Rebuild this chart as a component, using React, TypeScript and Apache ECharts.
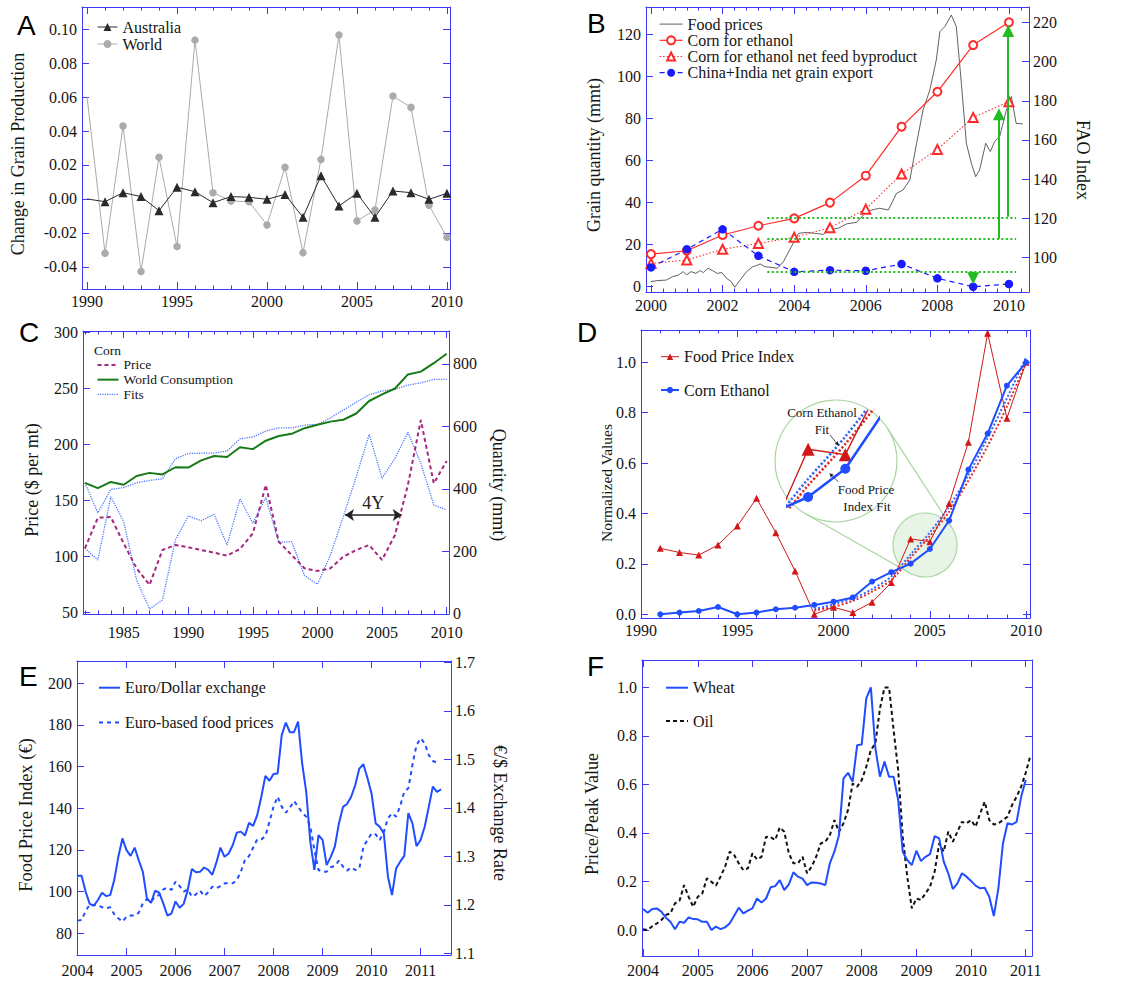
import React, { useEffect, useRef } from 'react';
import * as echarts from 'echarts';

const W = 1133;
const H = 981;
const BLUE = '#3a3aff';
const INK = '#151515';
const SERIF = '"Liberation Serif", "Times New Roman", Times, serif';
const SANS = '"Liberation Sans", Arial, Helvetica, sans-serif';

// ---------------- Panel A ----------------
const aYears = [1990, 1991, 1992, 1993, 1994, 1995, 1996, 1997, 1998, 1999, 2000, 2001, 2002, 2003, 2004, 2005, 2006, 2007, 2008, 2009, 2010];
const aAustralia = [0.0, -0.0016, 0.0037, 0.0014, -0.0069, 0.0069, 0.0043, -0.0022, 0.0014, 0.001, -0.0002, 0.0027, -0.0108, 0.0137, -0.0041, 0.0033, -0.0108, 0.0047, 0.0037, -0.0002, 0.0033];
const aWorld = [0.0602, -0.032, 0.043, -0.0427, 0.0245, -0.028, 0.0935, 0.0037, -0.0012, -0.0016, -0.0153, 0.0186, -0.0316, 0.0233, 0.0965, -0.0129, -0.0065, 0.0606, 0.0539, -0.0037, -0.0225];
const aXTicks = [1990, 1995, 2000, 2005, 2010];
const aYTicks = [-0.04, -0.02, 0, 0.02, 0.04, 0.06, 0.08, 0.1];

// ---------------- Panel B ----------------
const bYears = [2000, 2001, 2002, 2003, 2004, 2005, 2006, 2007, 2008, 2009, 2010];
const bCornEthanol = [15.5, 17.1, 24.6, 29, 32.5, 40, 52.8, 76.1, 92.7, 114.9, 125.7];
const bNetFeed = [11.1, 12.7, 17.8, 20.6, 23.5, 28.1, 36.9, 53.6, 65.3, 80.5, 88];
const bChinaIndia = [9.2, 17.8, 27.3, 14.7, 7.1, 7.9, 7.6, 10.8, 4, 0, 1.3];
const bFoodYears = [2000.0, 2000.17, 2000.43, 2000.6, 2000.77, 2000.9, 2000.99, 2001.12, 2001.25, 2001.38, 2001.46, 2001.59, 2001.72, 2001.85, 2001.98, 2002.11, 2002.24, 2002.34, 2002.49, 2002.67, 2002.84, 2002.92, 2003.05, 2003.18, 2003.35, 2003.53, 2003.7, 2003.87, 2004.0, 2004.12, 2004.35, 2004.58, 2004.81, 2005.0, 2005.23, 2005.46, 2005.74, 2005.98, 2006.16, 2006.39, 2006.63, 2006.86, 2007.04, 2007.23, 2007.42, 2007.6, 2007.79, 2007.97, 2008.07, 2008.21, 2008.39, 2008.53, 2008.67, 2008.81, 2008.95, 2009.07, 2009.18, 2009.35, 2009.48, 2009.6, 2009.74, 2009.93, 2010.07, 2010.2, 2010.39];
const bFoodIndex = [87.8, 88.3, 88.6, 90.3, 91.2, 92.9, 91.2, 92.9, 92.0, 93.4, 92.4, 94.6, 93.4, 92.0, 92.4, 89.5, 87.8, 84.9, 88.6, 92.9, 95.4, 95.8, 96.8, 95.4, 95.1, 94.6, 98.0, 103.9, 108.2, 112.4, 112.9, 112.4, 111.9, 114.4, 115.0, 117.2, 118.0, 122.6, 124.3, 125.2, 124.3, 132.8, 134.5, 139.6, 158.3, 175.3, 185.5, 200.8, 215.2, 217.8, 223.7, 217.8, 188.9, 158.3, 148.1, 141.3, 144.7, 158.3, 154.1, 159.2, 161.7, 175.3, 182.1, 168.5, 168.2];
const bXTicks = [2000, 2002, 2004, 2006, 2008, 2010];
const bYTicks = [0, 20, 40, 60, 80, 100, 120];
const bY2Ticks = [100, 120, 140, 160, 180, 200, 220];

// ---------------- Panel C ----------------
const cYears = [1982, 1983, 1984, 1985, 1986, 1987, 1988, 1989, 1990, 1991, 1992, 1993, 1994, 1995, 1996, 1997, 1998, 1999, 2000, 2001, 2002, 2003, 2004, 2005, 2006, 2007, 2008, 2009, 2010];
const cPrice = [107.4, 134.7, 135.3, 111.8, 89.5, 74.7, 105.9, 110.3, 108.3, 105.9, 103.5, 100.8, 106.8, 120.7, 163.9, 113.3, 101.4, 89.5, 87.2, 89.5, 99.9, 105.9, 110.3, 97, 119.3, 163.9, 221.8, 165.3, 185.3];
const cConsumption = [419, 402, 422, 413, 441, 451, 446, 469, 468, 491, 505, 502, 533, 527, 554, 569, 576, 594, 605, 615, 621, 641, 681, 702, 721, 766, 775, 802, 832];
const cFitQuantity = [419, 323, 398, 404, 419, 427, 432, 496, 513, 514, 514, 521, 560, 566, 585, 595, 595, 604, 606, 627, 652, 677, 701, 713, 718, 732, 739, 750, 750];
const cFitPrice = [107.4, 97, 153.4, 131.2, 79.1, 53.3, 61.3, 114.8, 136.2, 132, 137.7, 110.3, 151.4, 129.7, 152.6, 112.7, 113.3, 83, 75.3, 101.4, 135.6, 171.3, 209, 169.8, 187.6, 210.8, 183.2, 146, 141.6];
const cXTicks = [1985, 1990, 1995, 2000, 2005, 2010];
const cYTicks = [50, 100, 150, 200, 250, 300];
const cY2Ticks = [0, 200, 400, 600, 800];

// ---------------- Panel D ----------------
const dYears = [1991, 1992, 1993, 1994, 1995, 1996, 1997, 1998, 1999, 2000, 2001, 2002, 2003, 2004, 2005, 2006, 2007, 2008, 2009, 2010];
const dFoodPriceIndex = [0.262, 0.245, 0.235, 0.275, 0.35, 0.46, 0.324, 0.172, 0.0, 0.028, 0.007, 0.048, 0.126, 0.299, 0.288, 0.44, 0.683, 1.115, 0.778, 1.0];
const dCornEthanol = [0.0, 0.007, 0.013, 0.029, 0.0, 0.007, 0.02, 0.026, 0.037, 0.05, 0.067, 0.13, 0.167, 0.201, 0.259, 0.372, 0.574, 0.717, 0.907, 1.0];
const dFitYears = [1999, 2000, 2001, 2002, 2003, 2004, 2005, 2006, 2007, 2008, 2009, 2010];
const dCornEthanolFit = [0.02, 0.04, 0.063, 0.1, 0.15, 0.238, 0.325, 0.427, 0.553, 0.7, 0.857, 1.022];
const dFoodPriceFit = [0.015, 0.03, 0.053, 0.09, 0.136, 0.225, 0.31, 0.407, 0.53, 0.668, 0.824, 1.0];
const dXTicks = [1990, 1995, 2000, 2005, 2010];
const dYTicks = [0, 0.2, 0.4, 0.6, 0.8, 1.0];

// ---------------- Panel E (monthly from Jan 2004) ----------------
const eStart = 2004;
const eExchange = [1.26, 1.26, 1.227, 1.202, 1.198, 1.21, 1.225, 1.218, 1.22, 1.251, 1.299, 1.337, 1.313, 1.301, 1.318, 1.292, 1.268, 1.213, 1.204, 1.229, 1.225, 1.203, 1.178, 1.182, 1.207, 1.194, 1.202, 1.231, 1.274, 1.267, 1.268, 1.277, 1.272, 1.262, 1.287, 1.318, 1.299, 1.306, 1.323, 1.349, 1.351, 1.343, 1.369, 1.363, 1.385, 1.423, 1.466, 1.456, 1.47, 1.471, 1.55, 1.576, 1.556, 1.556, 1.578, 1.492, 1.433, 1.33, 1.272, 1.344, 1.334, 1.282, 1.299, 1.32, 1.368, 1.402, 1.408, 1.423, 1.447, 1.481, 1.49, 1.461, 1.429, 1.368, 1.361, 1.347, 1.258, 1.22, 1.275, 1.289, 1.301, 1.389, 1.368, 1.321, 1.334, 1.361, 1.402, 1.444, 1.433, 1.438];
const eEuroFood = [86.1, 86.4, 90.7, 93.9, 93.6, 93.6, 92.5, 92, 92.5, 89.1, 87.2, 85.6, 88, 88.5, 88.5, 89.9, 94.4, 96.5, 95.2, 97.6, 98.4, 101.1, 101.9, 100.8, 104.8, 102.7, 100, 101.1, 97.6, 98.7, 100.5, 97.9, 99.7, 102.4, 101.6, 102.7, 104, 104, 104, 105.6, 109.6, 115.2, 117.1, 121.1, 125.1, 125.1, 126.7, 133.6, 140.8, 145.6, 140.8, 137.9, 140.3, 143.5, 140.8, 137.9, 136, 131.2, 120, 110.4, 109.6, 109.6, 111.7, 112.3, 114.9, 112, 110.1, 111.7, 110.4, 111.2, 121.6, 124.8, 128, 127.5, 124.8, 128.8, 135.2, 137.6, 136, 141.1, 148, 149.6, 160.8, 170.4, 173.6, 171.2, 165.6, 162.7, 161.9];
const eXTicks = [2004, 2005, 2006, 2007, 2008, 2009, 2010, 2011];
const eYTicks = [80, 100, 120, 140, 160, 180, 200];
const eY2Ticks = [1.1, 1.2, 1.3, 1.4, 1.5, 1.6, 1.7];

// ---------------- Panel F (monthly from Jan 2004) ----------------
const fStart = 2004;
const fWheat = [0.087, 0.071, 0.087, 0.089, 0.076, 0.051, 0.034, 0.003, 0.034, 0.03, 0.052, 0.045, 0.044, 0.034, 0.034, 0.0, 0.014, 0.004, 0.011, 0.027, 0.059, 0.092, 0.069, 0.08, 0.089, 0.13, 0.113, 0.13, 0.176, 0.181, 0.206, 0.165, 0.188, 0.238, 0.22, 0.212, 0.185, 0.196, 0.195, 0.192, 0.185, 0.275, 0.323, 0.391, 0.625, 0.648, 0.611, 0.762, 0.765, 0.955, 1.0, 0.749, 0.632, 0.694, 0.632, 0.632, 0.536, 0.323, 0.288, 0.268, 0.327, 0.284, 0.302, 0.313, 0.387, 0.378, 0.282, 0.234, 0.169, 0.192, 0.234, 0.22, 0.202, 0.183, 0.172, 0.174, 0.137, 0.058, 0.172, 0.357, 0.44, 0.435, 0.446, 0.549, 0.618];
const fOil = [0.003, 0.0, 0.016, 0.027, 0.041, 0.062, 0.069, 0.11, 0.121, 0.185, 0.137, 0.096, 0.137, 0.151, 0.213, 0.199, 0.183, 0.22, 0.261, 0.323, 0.309, 0.275, 0.247, 0.254, 0.316, 0.291, 0.302, 0.385, 0.382, 0.371, 0.423, 0.405, 0.316, 0.275, 0.275, 0.302, 0.234, 0.261, 0.302, 0.357, 0.364, 0.391, 0.453, 0.405, 0.44, 0.495, 0.604, 0.591, 0.618, 0.673, 0.742, 0.769, 0.913, 1.0, 1.0, 0.824, 0.659, 0.385, 0.22, 0.089, 0.13, 0.124, 0.151, 0.179, 0.24, 0.357, 0.323, 0.405, 0.364, 0.405, 0.446, 0.44, 0.453, 0.426, 0.481, 0.529, 0.453, 0.435, 0.44, 0.453, 0.467, 0.515, 0.549, 0.591, 0.648, 0.717];
const fXTicks = [2004, 2005, 2006, 2007, 2008, 2009, 2010, 2011];
const fYTicks = [0, 0.2, 0.4, 0.6, 0.8, 1.0];

// ---------------- helpers ----------------
type Spec = { min: number; max: number; major: number[]; minor?: number[]; fmt?: (v: number) => string; margin?: number };

function steps(a: number, b: number, n: number): number[] {
  const out: number[] = [];
  for (let k = 0; a + k / n <= b + 1e-9; k++) out.push(a + k / n);
  return out;
}

function pairs(xs: number[], ys: number[]) {
  return xs.map((x, i) => [x, ys[i]]);
}
function monthly(start: number, ys: number[]) {
  return ys.map((v, i) => [start + i / 12, v]);
}

function mkAxis(gridIndex: number, s: Spec, position: string, ticks: number[], len: number, showLine: boolean, showLabels: boolean) {
  return {
    type: 'value',
    gridIndex,
    position,
    min: s.min,
    max: s.max,
    silent: true,
    axisLine: { show: showLine, onZero: false, lineStyle: { color: BLUE, width: 1 } },
    splitLine: { show: false },
    axisTick: { show: true, inside: true, length: len, customValues: ticks, lineStyle: { color: BLUE, width: 1 } },
    axisLabel: showLabels
      ? {
          show: true,
          customValues: s.major,
          formatter: (v: number) => (s.fmt ? s.fmt(v) : String(v)),
          color: INK,
          fontFamily: SERIF,
          fontSize: 16,
          lineHeight: 13,
          margin: s.margin ?? 5,
        }
      : { show: false },
    axisPointer: { show: false },
  };
}

export default function App() {
  const ref = useRef<HTMLDivElement>(null);

  useEffect(() => {
    if (!ref.current) return;
    const chart = echarts.init(ref.current, undefined, { renderer: 'svg', width: W, height: H });

    const xAxes: any[] = [];
    const yAxes: any[] = [];
    function panelAxes(g: number, x: Spec, y: Spec, y2?: Spec) {
      const xi = xAxes.length;
      xAxes.push(mkAxis(g, x, 'bottom', x.major, 7, true, true));
      xAxes.push(mkAxis(g, x, 'top', x.major, 7, true, false));
      if (x.minor) {
        xAxes.push(mkAxis(g, x, 'bottom', x.minor, 3.5, false, false));
        xAxes.push(mkAxis(g, x, 'top', x.minor, 3.5, false, false));
      }
      const yi = yAxes.length;
      yAxes.push(mkAxis(g, y, 'left', y.major, 7, true, true));
      let y2i = yi;
      if (y2) {
        y2i = yAxes.length;
        yAxes.push(mkAxis(g, y2, 'right', y2.major, 7, true, true));
      } else {
        yAxes.push(mkAxis(g, y, 'right', y.major, 7, true, false));
      }
      return { xi, yi, y2i };
    }

    const grids = [
      { left: 82, top: 7, width: 368, height: 282 },
      { left: 646, top: 7, width: 383, height: 285 },
      { left: 83, top: 331, width: 366, height: 283 },
      { left: 641, top: 330, width: 389, height: 288 },
      { left: 77, top: 661, width: 374, height: 294 },
      { left: 642, top: 660, width: 390, height: 296 },
    ];

    const A = panelAxes(0,
      { min: 1989.72, max: 2010.17, major: aXTicks, minor: steps(1990, 2010, 1), margin: 6.2 },
      { min: -0.053, max: 0.113, major: aYTicks, fmt: (v) => v.toFixed(2) });
    const B = panelAxes(1,
      { min: 1999.86, max: 2010.56, major: bXTicks, minor: steps(2000, 2010.5, 3), margin: 6.5 },
      { min: -2.5, max: 133, major: bYTicks },
      { min: 82.5, max: 227.8, major: bY2Ticks, margin: 4 });
    const C = panelAxes(2,
      { min: 1981.85, max: 2010.18, major: cXTicks, minor: steps(1982, 2010, 1), margin: 12 },
      { min: 48.8, max: 301.2, major: cYTicks },
      { min: -0.6, max: 905, major: cY2Ticks, margin: 4 });
    const D = panelAxes(3,
      { min: 1990, max: 2010.2, major: dXTicks, minor: steps(1990, 2010, 1), margin: 5.5 },
      { min: -0.0147, max: 1.128, major: dYTicks, fmt: (v) => v.toFixed(1) });
    const E = panelAxes(4,
      { min: 2003.99, max: 2011.62, major: eXTicks, margin: 8.5 },
      { min: 69.6, max: 210.7, major: eYTicks },
      { min: 1.0965, max: 1.703, major: eY2Ticks, fmt: (v) => v.toFixed(1), margin: 4 });
    const F = panelAxes(5,
      { min: 2003.98, max: 2011.115, major: fXTicks, margin: 7.5 },
      { min: -0.107, max: 1.113, major: fYTicks, fmt: (v) => v.toFixed(1) });

    // inset (magnified view of panel D around 2004.75 / 0.275)
    const IN = { cx: 836, cy: 461, r: 61, kx: 37.2, ky: 487, dx: 2004.75, dy: 0.275 };
    const inX = [2003.45, 2005.87];
    const inY = [0.18, 0.378];
    const insetGrid = {
      left: IN.cx + (inX[0] - IN.dx) * IN.kx,
      top: IN.cy - (inY[1] - IN.dy) * IN.ky,
      width: (inX[1] - inX[0]) * IN.kx,
      height: (inY[1] - inY[0]) * IN.ky,
    };
    const inXi = xAxes.length;
    xAxes.push({ type: 'value', gridIndex: 6, min: inX[0], max: inX[1], show: false, axisPointer: { show: false } });
    const inYi = yAxes.length;
    yAxes.push({ type: 'value', gridIndex: 6, min: inY[0], max: inY[1], show: false, axisPointer: { show: false } });

    // small circle in panel D (data centre mapped with panel D's scale)
    const dg = grids[3];
    const dpx = (x: number) => dg.left + ((x - 1990) / (2010.2 - 1990)) * dg.width;
    const dpy = (y: number) => dg.top + dg.height - ((y + 0.0147) / (1.128 + 0.0147)) * dg.height;
    const SM = { cx: dpx(IN.dx), cy: dpy(IN.dy), r: 32 };
    // outer tangents between the circles
    const vx = SM.cx - IN.cx, vy = SM.cy - IN.cy;
    const dist = Math.hypot(vx, vy);
    const base = Math.atan2(vy, vx);
    const th = Math.acos((IN.r - SM.r) / dist);
    const tangent = (sgn: number) => {
      const a = base + sgn * th;
      return { x1: IN.cx + IN.r * Math.cos(a), y1: IN.cy + IN.r * Math.sin(a), x2: SM.cx + SM.r * Math.cos(a), y2: SM.cy + SM.r * Math.sin(a) };
    };

    const line = (o: any) => ({ type: 'line', animation: false, ...o });
    const noFirstSymbol = (xs: number[], ys: number[]) =>
      xs.map((x, i) => (i === 0 ? { value: [x, ys[i]], symbol: 'none' } : [x, ys[i]]));

    const RED = '#ff2b2b';
    const DRED = '#d01818';
    const DBLUE = '#1f4dff';
    const GREEN = '#22bb22';

    const series: any[] = [
      // A
      line({ name: 'World', xAxisIndex: A.xi, yAxisIndex: A.yi, data: noFirstSymbol(aYears, aWorld), symbol: 'circle', symbolSize: 7.5, lineStyle: { color: '#ababab', width: 1 }, itemStyle: { color: '#ababab' }, z: 2 }),
      line({ name: 'Australia', xAxisIndex: A.xi, yAxisIndex: A.yi, data: noFirstSymbol(aYears, aAustralia), symbol: 'triangle', symbolSize: 9, lineStyle: { color: '#2a2a2a', width: 1 }, itemStyle: { color: '#2a2a2a' }, z: 3 }),
      // B
      line({ name: 'Food prices', xAxisIndex: B.xi, yAxisIndex: B.y2i, data: pairs(bFoodYears, bFoodIndex), symbol: 'none', lineStyle: { color: '#3a3a3a', width: 0.8 }, itemStyle: { color: '#3a3a3a' } }),
      line({
        name: 'Corn for ethanol', xAxisIndex: B.xi, yAxisIndex: B.yi, data: pairs(bYears, bCornEthanol), symbol: 'emptyCircle', symbolSize: 8,
        lineStyle: { color: RED, width: 1.2 }, itemStyle: { color: RED, borderWidth: 1.1 },
        markLine: {
          silent: true, symbol: 'none', label: { show: false }, animation: false,
          lineStyle: { color: GREEN, type: [2, 2.5], width: 2 },
          data: [
            [{ coord: [2003.25, 32.7] }, { coord: [2010.2, 32.7] }],
            [{ coord: [2003.25, 22.8] }, { coord: [2010.2, 22.8] }],
            [{ coord: [2003.25, 7.1] }, { coord: [2010.2, 7.1] }],
          ],
        },
      }),
      line({ name: 'Corn for ethanol net feed byproduct', xAxisIndex: B.xi, yAxisIndex: B.yi, data: pairs(bYears, bNetFeed), symbol: 'emptyTriangle', symbolSize: 9, lineStyle: { color: RED, width: 1.1, type: [1.5, 2] }, itemStyle: { color: RED, borderWidth: 1.1 } }),
      line({
        name: 'China+India net grain export', xAxisIndex: B.xi, yAxisIndex: B.yi, data: pairs(bYears, bChinaIndia), symbol: 'circle', symbolSize: 8.5,
        lineStyle: { color: '#1a1aff', width: 1.2, type: [5, 4] }, itemStyle: { color: '#1a1aff' },
        markLine: {
          silent: true, symbol: ['none', 'triangle'], symbolSize: 12, label: { show: false }, animation: false,
          lineStyle: { color: GREEN, type: 'solid', width: 2 },
          itemStyle: { color: GREEN },
          data: [
            [{ coord: [2009.72, 22.8] }, { coord: [2009.72, 82] }],
            [{ coord: [2009.98, 33.3] }, { coord: [2009.98, 121.6] }],
            [{ coord: [2009.0, 7.1] }, { coord: [2009.0, 4.0] }],
          ],
        },
      }),
      // C
      line({
        name: 'Price', xAxisIndex: C.xi, yAxisIndex: C.yi, data: pairs(cYears, cPrice), symbol: 'none', lineStyle: { color: '#a3287f', width: 2, type: [4, 3] }, itemStyle: { color: '#a3287f' }, z: 3,
        markLine: {
          silent: true, symbol: ['arrow', 'arrow'], symbolSize: 9, animation: false,
          lineStyle: { color: '#222', type: 'solid', width: 1.5 },
          label: { show: true, formatter: '4Y', position: 'middle', distance: 3, fontFamily: SERIF, fontSize: 18, color: '#222' },
          data: [[{ coord: [2002.13, 137] }, { coord: [2006.52, 137] }]],
        },
      }),
      line({ name: 'World Consumption', xAxisIndex: C.xi, yAxisIndex: C.y2i, data: pairs(cYears, cConsumption), symbol: 'none', lineStyle: { color: '#177a17', width: 2 }, itemStyle: { color: '#177a17' }, z: 3 }),
      line({ name: 'Fits', xAxisIndex: C.xi, yAxisIndex: C.y2i, data: pairs(cYears, cFitQuantity), symbol: 'none', lineStyle: { color: '#4a74ff', width: 1.3, type: [1.2, 1.2] }, itemStyle: { color: '#4a74ff' }, z: 2 }),
      line({ name: 'Fits', xAxisIndex: C.xi, yAxisIndex: C.yi, data: pairs(cYears, cFitPrice), symbol: 'none', lineStyle: { color: '#4a74ff', width: 1.3, type: [1.2, 1.2] }, itemStyle: { color: '#4a74ff' }, z: 2 }),
      // D
      line({ name: 'Food Price Index', xAxisIndex: D.xi, yAxisIndex: D.yi, data: pairs(dYears, dFoodPriceIndex), symbol: 'triangle', symbolSize: 7, lineStyle: { color: DRED, width: 1 }, itemStyle: { color: DRED }, z: 3 }),
      line({ name: 'Corn Ethanol', xAxisIndex: D.xi, yAxisIndex: D.yi, data: pairs(dYears, dCornEthanol), symbol: 'circle', symbolSize: 6, lineStyle: { color: DBLUE, width: 2 }, itemStyle: { color: DBLUE }, z: 4 }),
      line({ name: 'Corn Ethanol Fit', xAxisIndex: D.xi, yAxisIndex: D.yi, data: pairs(dFitYears, dCornEthanolFit), symbol: 'none', smooth: 0.3, lineStyle: { color: '#3a66ff', width: 2, type: [2, 2] }, z: 2 }),
      line({ name: 'Food Price Index Fit', xAxisIndex: D.xi, yAxisIndex: D.yi, data: pairs(dFitYears, dFoodPriceFit), symbol: 'none', smooth: 0.3, lineStyle: { color: '#e02828', width: 2, type: [2, 2] }, z: 2 }),
      // inset
      line({ name: 'Corn Ethanol Fit', xAxisIndex: inXi, yAxisIndex: inYi, clip: true, data: pairs(dFitYears, dCornEthanolFit), symbol: 'none', smooth: 0.3, lineStyle: { color: '#3a66ff', width: 2.6, type: [2.2, 2] }, z: 5 }),
      line({ name: 'Food Price Index Fit', xAxisIndex: inXi, yAxisIndex: inYi, clip: true, data: pairs(dFitYears, dFoodPriceFit), symbol: 'none', smooth: 0.3, lineStyle: { color: '#e02828', width: 2.6, type: [2.2, 2] }, z: 5 }),
      line({ name: 'Food Price Index', xAxisIndex: inXi, yAxisIndex: inYi, clip: true, data: pairs(dYears, dFoodPriceIndex), symbol: 'triangle', symbolSize: 13, lineStyle: { color: DRED, width: 1.4 }, itemStyle: { color: DRED }, z: 6 }),
      line({ name: 'Corn Ethanol', xAxisIndex: inXi, yAxisIndex: inYi, clip: true, data: pairs(dYears, dCornEthanol), symbol: 'circle', symbolSize: 10, lineStyle: { color: DBLUE, width: 2.6 }, itemStyle: { color: DBLUE }, z: 7 }),
      // E
      line({ name: 'Euro/Dollar exchange', xAxisIndex: E.xi, yAxisIndex: E.y2i, data: monthly(eStart, eExchange), symbol: 'none', lineStyle: { color: '#1f4dff', width: 2 }, itemStyle: { color: '#1f4dff' } }),
      line({ name: 'Euro-based food prices', xAxisIndex: E.xi, yAxisIndex: E.yi, data: monthly(eStart, eEuroFood), symbol: 'none', lineStyle: { color: '#1f4dff', width: 2, type: [4, 4] }, itemStyle: { color: '#1f4dff' } }),
      // F
      line({ name: 'Wheat', xAxisIndex: F.xi, yAxisIndex: F.yi, data: monthly(fStart, fWheat), symbol: 'none', lineStyle: { color: '#1f4dff', width: 2 }, itemStyle: { color: '#1f4dff' }, z: 3 }),
      line({ name: 'Oil', xAxisIndex: F.xi, yAxisIndex: F.yi, data: monthly(fStart, fOil), symbol: 'none', lineStyle: { color: '#111', width: 2, type: [4, 3] }, itemStyle: { color: '#111' }, z: 2 }),
    ];

    const lg = (o: any) => ({
      orient: 'vertical', padding: 0, selectedMode: false, itemGap: 0,
      lineStyle: { width: 'inherit' },
      ...o,
      textStyle: { fontFamily: SERIF, color: INK, fontSize: 16, ...(o.textStyle || {}) },
    });
    const noSym = (name: string) => ({ name, itemStyle: { opacity: 0 } });

    const legends = [
      lg({ left: 97, top: 18.5, itemWidth: 20, itemHeight: 10, data: ['Australia', 'World'], textStyle: { lineHeight: 17 } }),
      lg({ left: 659, top: 16, itemWidth: 23, itemHeight: 10, data: [noSym('Food prices'), 'Corn for ethanol', 'Corn for ethanol net feed byproduct', 'China+India net grain export'], textStyle: { lineHeight: 16.2 } }),
      lg({ left: 96.5, top: 357.6, itemWidth: 21, itemHeight: 8, data: [noSym('Price'), noSym('World Consumption'), noSym('Fits')], textStyle: { fontSize: 13.5, lineHeight: 14.7 } }),
      lg({ left: 660, top: 348.7, itemWidth: 18, itemHeight: 8, itemGap: 17.3, data: ['Food Price Index', 'Corn Ethanol'], textStyle: { lineHeight: 16 } }),
      lg({ left: 98, top: 679.7, itemWidth: 21, itemHeight: 8, itemGap: 18.7, data: [noSym('Euro/Dollar exchange'), noSym('Euro-based food prices')], textStyle: { lineHeight: 16 } }),
      lg({ left: 665, top: 679.7, itemWidth: 22, itemHeight: 8, itemGap: 17.3, data: [noSym('Wheat'), noSym('Oil')], textStyle: { lineHeight: 16 } }),
    ];

    const txt = (text: string, x: number, y: number, o: any = {}) => ({
      type: 'text', x, y, rotation: o.rotation || 0, silent: true, z: 10,
      style: {
        text, fill: o.fill || INK, fontFamily: o.fontFamily || SERIF, fontSize: o.fontSize || 18,
        textAlign: o.align || 'center', align: o.align || 'center', textVerticalAlign: 'middle', verticalAlign: 'middle',
      },
    });
    const UP = Math.PI / 2;
    const DOWN = -Math.PI / 2;

    const arrow = (x1: number, y1: number, x2: number, y2: number) => {
      const ddx = x2 - x1, ddy = y2 - y1;
      const L = Math.hypot(ddx, ddy);
      const ux = ddx / L, uy = ddy / L;
      const hl = 4, hw = 2;
      const bx = x2 - ux * hl, by = y2 - uy * hl;
      return [
        { type: 'line', silent: true, z: 10, shape: { x1, y1, x2: bx, y2: by }, style: { stroke: '#222', lineWidth: 0.8 } },
        { type: 'polygon', silent: true, z: 10, shape: { points: [[x2, y2], [bx - uy * hw, by + ux * hw], [bx + uy * hw, by - ux * hw]] }, style: { fill: '#222' } },
      ];
    };

    const CIRC = '#a9d6a0';
    const graphic: any[] = [
      // panel letters
      txt('A', 17, 25, { fontFamily: SANS, fontSize: 28, fill: '#000', align: 'left' }),
      txt('B', 587, 23, { fontFamily: SANS, fontSize: 28, fill: '#000', align: 'left' }),
      txt('C', 19, 332, { fontFamily: SANS, fontSize: 28, fill: '#000', align: 'left' }),
      txt('D', 577, 332.5, { fontFamily: SANS, fontSize: 28, fill: '#000', align: 'left' }),
      txt('E', 19, 676, { fontFamily: SANS, fontSize: 28, fill: '#000', align: 'left' }),
      txt('F', 587, 666, { fontFamily: SANS, fontSize: 28, fill: '#000', align: 'left' }),
      // axis names
      txt('Change in Grain Production', 17.5, 154, { rotation: UP }),
      txt('Grain quantity (mmt)', 594, 155, { rotation: UP }),
      txt('FAO Index', 1083, 160, { rotation: DOWN }),
      txt('Price ($ per mt)', 31.5, 480, { rotation: UP }),
      txt('Quantity (mmt)', 499, 485, { rotation: DOWN }),
      txt('Normalized Values', 606, 483, { rotation: UP, fontSize: 15.5 }),
      txt('Food Price Index (€)', 26, 815, { rotation: UP, fontSize: 18.5 }),
      txt('€/$ Exchange Rate', 500, 813, { rotation: DOWN }),
      txt('Price/Peak Value', 591.5, 814, { rotation: UP }),
      // C legend header
      txt('Corn', 94, 350, { fontSize: 13.5, align: 'left' }),
      // D inset circles
      { type: 'circle', silent: true, z: 0, shape: { cx: IN.cx, cy: IN.cy, r: IN.r }, style: { fill: '#fff', stroke: CIRC, lineWidth: 1.2 } },
      { type: 'circle', silent: true, z: 0, shape: { cx: SM.cx, cy: SM.cy, r: SM.r }, style: { fill: 'rgba(150,205,140,0.22)', stroke: CIRC, lineWidth: 1.2 } },
      { type: 'line', silent: true, z: 0, shape: tangent(1), style: { stroke: CIRC, lineWidth: 1.2 } },
      { type: 'line', silent: true, z: 0, shape: tangent(-1), style: { stroke: CIRC, lineWidth: 1.2 } },
      txt('Corn Ethanol', 822, 412, { fontSize: 13 }),
      txt('Fit', 822, 429, { fontSize: 13 }),
      txt('Food Price', 866, 489, { fontSize: 13 }),
      txt('Index Fit', 867, 506, { fontSize: 13 }),
      ...arrow(830, 435, 838.7, 445.7),
      ...arrow(838.3, 481.7, 829.3, 473.3),
    ];

    chart.setOption({
      animation: false,
      backgroundColor: '#ffffff',
      textStyle: { fontFamily: SERIF },
      grid: [...grids, insetGrid].map((g) => ({ ...g, show: false, containLabel: false })),
      xAxis: xAxes,
      yAxis: yAxes,
      legend: legends,
      series,
      graphic,
    });

    return () => chart.dispose();
  }, []);

  return <div ref={ref} style={{ position: 'absolute', left: 0, top: 0, width: W, height: H, background: '#fff' }} />;
}
